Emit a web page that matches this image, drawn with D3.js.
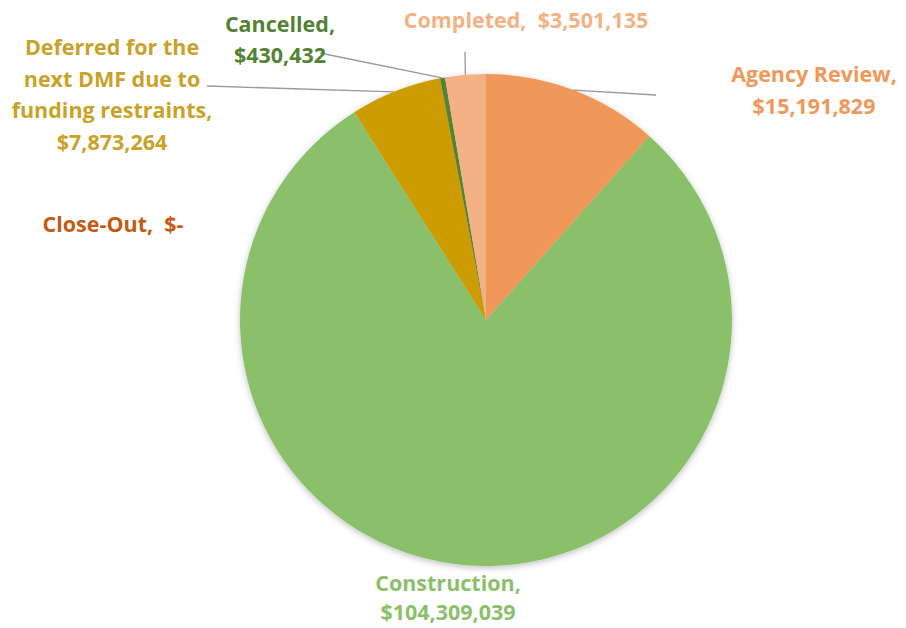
<!DOCTYPE html>
<html>
<head>
<meta charset="utf-8">
<script src="https://cdn.jsdelivr.net/npm/d3@7"></script>
<style>
  body { margin: 0; background: #fff; }
  text { font-family: "Open Sans", "Noto Sans", sans-serif; font-weight: 700; white-space: pre; }
</style>
</head>
<body>
<div id="chart"></div>
<script>
// slice data, clockwise from 12 o'clock
const categories = ["Agency Review", "Construction", "Close-Out", "Deferred for the next DMF due to funding restraints", "Cancelled", "Completed"];
const values = [15191829, 104309039, 0, 7873264, 430432, 3501135];
const valueLabels = ["$15,191,829", "$104,309,039", "$-", "$7,873,264", "$430,432", "$3,501,135"];
const sliceColors = ["#F0985A", "#8BC06A", "#C55A11", "#CC9C00", "#548235", "#F4B183"];
const textColors = ["#F0985A", "#8BC06A", "#C55A11", "#C9A227", "#548235", "#F4B183"];

const width = 906, height = 628;
const cx = 486, cy = 320, radius = 246;

const svg = d3.select("#chart").append("svg")
    .attr("width", width)
    .attr("height", height);

const defs = svg.append("defs");
const shadow = defs.append("filter").attr("id", "shadow")
    .attr("x", "-10%").attr("y", "-10%").attr("width", "120%").attr("height", "120%");
shadow.append("feDropShadow")
    .attr("dx", 0).attr("dy", 2).attr("stdDeviation", 3)
    .attr("flood-color", "#000").attr("flood-opacity", 0.25);

const data = categories.map(function(c, i) {
    return {name: c, value: values[i], label: valueLabels[i], color: sliceColors[i], text: textColors[i]};
});

const pie = d3.pie().sort(null).value(function(d) { return d.value; });
const arcs = pie(data);
const arc = d3.arc().innerRadius(0).outerRadius(radius);

const g = svg.append("g").attr("transform", "translate(" + cx + "," + cy + ")");

g.append("g").attr("filter", "url(#shadow)")
    .selectAll("path")
    .data(arcs.filter(function(d) { return d.value > 0; }))
    .enter()
    .append("path")
    .attr("d", arc)
    .attr("fill", function(d) { return d.data.color; });

// label layout: text lines, anchor point, line step and leader line end (label side)
const labelLayout = {
    "Agency Review": {x: 814, y: 82, step: 31.5, lines: ["Agency Review,", "$15,191,829"], leader: [656, 95], frac: 0.5},
    "Construction": {x: 448, y: 591, step: 29, lines: ["Construction,", "$104,309,039"]},
    "Close-Out": {x: 113, y: 232, step: 0, lines: ["Close-Out,  $-"]},
    "Deferred for the next DMF due to funding restraints": {x: 112, y: 55, step: 31.5, lines: ["Deferred for the", "next DMF due to", "funding restraints,", "$7,873,264"], leader: [207, 86], frac: 0.48},
    "Cancelled": {x: 280, y: 32, step: 31, lines: ["Cancelled,", "$430,432"], leader: [320, 53], frac: 0.4},
    "Completed": {x: 526, y: 28, step: 0, lines: ["Completed,  $3,501,135"], leader: [465, 52], frac: 0.5}
};

// leader lines
arcs.forEach(function(d) {
    const l = labelLayout[d.data.name];
    if (!l.leader) return;
    const a = d.startAngle + (d.endAngle - d.startAngle) * l.frac;
    const px = Math.sin(a) * radius, py = -Math.cos(a) * radius;
    g.append("line")
        .attr("x1", px).attr("y1", py)
        .attr("x2", l.leader[0] - cx).attr("y2", l.leader[1] - cy)
        .attr("stroke", "#999")
        .attr("stroke-width", 1.3);
});

// labels
data.forEach(function(d) {
    const l = labelLayout[d.name];
    const t = svg.append("text")
        .attr("text-anchor", "middle")
        .attr("fill", d.text)
        .style("font-size", "21.5px");
    l.lines.forEach(function(line, i) {
        t.append("tspan")
            .attr("x", l.x)
            .attr("y", l.y + i * l.step)
            .text(line);
    });
});
</script>
</body>
</html>
